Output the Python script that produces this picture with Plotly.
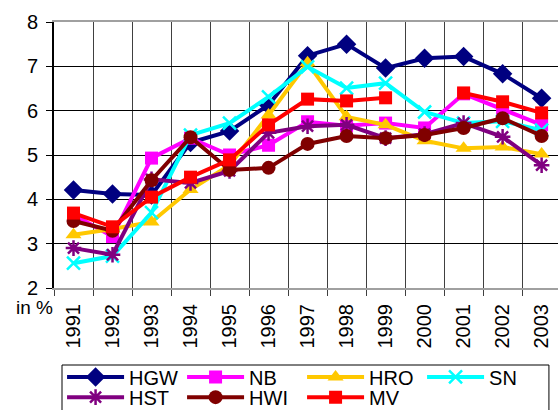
import plotly.graph_objects as go

years = ["1991", "1992", "1993", "1994", "1995", "1996", "1997",
         "1998", "1999", "2000", "2001", "2002", "2003"]

hgw = [4.21, 4.12, 4.10, 5.28, 5.54, 6.13, 7.24, 7.50, 6.96, 7.18, 7.22, 6.83, 6.28]
nb  = [3.65, 3.16, 4.93, 5.38, 5.00, 5.22, 5.75, 5.66, 5.72, 5.61, 6.38, 6.02, 5.68]
hro = [3.20, 3.33, 3.49, 4.22, 4.77, 5.90, 7.08, 5.86, 5.68, 5.32, 5.15, 5.18, 5.02]
sn  = [2.56, 2.72, 3.70, 5.45, 5.72, 6.31, 6.99, 6.51, 6.62, 5.97, 5.72, 5.76, 5.56]
hst = [2.90, 2.75, 4.45, 4.37, 4.64, 5.50, 5.65, 5.68, 5.38, 5.47, 5.72, 5.41, 4.77]
hwi = [3.51, 3.29, 4.43, 5.40, 4.66, 4.71, 5.25, 5.43, 5.38, 5.45, 5.61, 5.83, 5.43]
mv  = [3.69, 3.38, 4.05, 4.50, 4.89, 5.68, 6.26, 6.22, 6.29, None, 6.40, 6.20, 5.95]

# name, values, colour, marker symbol, marker size, legend row
series = [
    ("HGW", hgw, "#000080", "diamond", 15, "legend"),
    ("NB",  nb,  "#FF00FF", "square", 13, "legend"),
    ("HRO", hro, "#FFC800", "triangle-up", 14, "legend"),
    ("SN",  sn,  "#00FFFF", "x-thin-open", 13, "legend"),
    ("HST", hst, "#800080", "asterisk-open", 13, "legend2"),
    ("HWI", hwi, "#800000", "circle", 14, "legend2"),
    ("MV",  mv,  "#FF0000", "square", 13, "legend2"),
]

fig = go.Figure()
for name, vals, color, sym, size, leg in series:
    fig.add_trace(go.Scatter(
        x=years, y=vals, name=name, mode="lines+markers", legend=leg,
        line=dict(color=color, width=4),
        marker=dict(symbol=sym, size=size, color=color,
                    line=dict(color=color, width=2.5 if "open" in sym else 0)),
    ))

font = "Liberation Sans, Arial, sans-serif"
legend_style = dict(
    orientation="h", x=0.016, xanchor="left", yanchor="top",
    bgcolor="rgba(0,0,0,0)", borderwidth=0,
    font=dict(size=20, family=font),
    entrywidth=48, entrywidthmode="pixels",
    tracegroupgap=0, itemwidth=57,
)

fig.update_layout(
    width=558, height=410,
    margin=dict(l=54, r=0, t=22, b=122, autoexpand=False),
    paper_bgcolor="white", plot_bgcolor="white",
    font=dict(family=font, size=20, color="black"),
    showlegend=True,
    legend=dict(legend_style, y=-0.261),
    legend2=dict(legend_style, y=-0.337),
    xaxis=dict(
        type="category", range=[-0.5, 12.42],
        tickangle=-90, tickson="boundaries",
        ticks="outside", ticklen=6, tickcolor="#404040",
        ticklabelstandoff=6,
        showgrid=True, gridcolor="#404040", gridwidth=1,
        showline=True, linecolor="#A0A0A0", linewidth=2, mirror=True,
        tickfont=dict(size=20), automargin=False,
        fixedrange=True,
    ),
    yaxis=dict(
        range=[2, 8], dtick=1,
        ticks="outside", ticklen=6, tickcolor="black",
        ticklabelstandoff=4,
        showgrid=True, gridcolor="black", gridwidth=1,
        showline=True, linecolor="black", linewidth=2,
        zeroline=False,
        tickfont=dict(size=20), automargin=False,
        fixedrange=True,
    ),
    shapes=[dict(
        type="rect", xref="paper", yref="paper",
        x0=0.0159, x1=0.982, y0=-0.2895, y1=-0.52,
        line=dict(color="black", width=1), fillcolor="rgba(0,0,0,0)",
        layer="below",
    )],
    annotations=[dict(
        text="in %", xref="paper", yref="paper",
        x=-0.079, y=-0.072, xanchor="left", yanchor="middle",
        showarrow=False, font=dict(size=19),
    )],
)

fig.write_html("out.html")
